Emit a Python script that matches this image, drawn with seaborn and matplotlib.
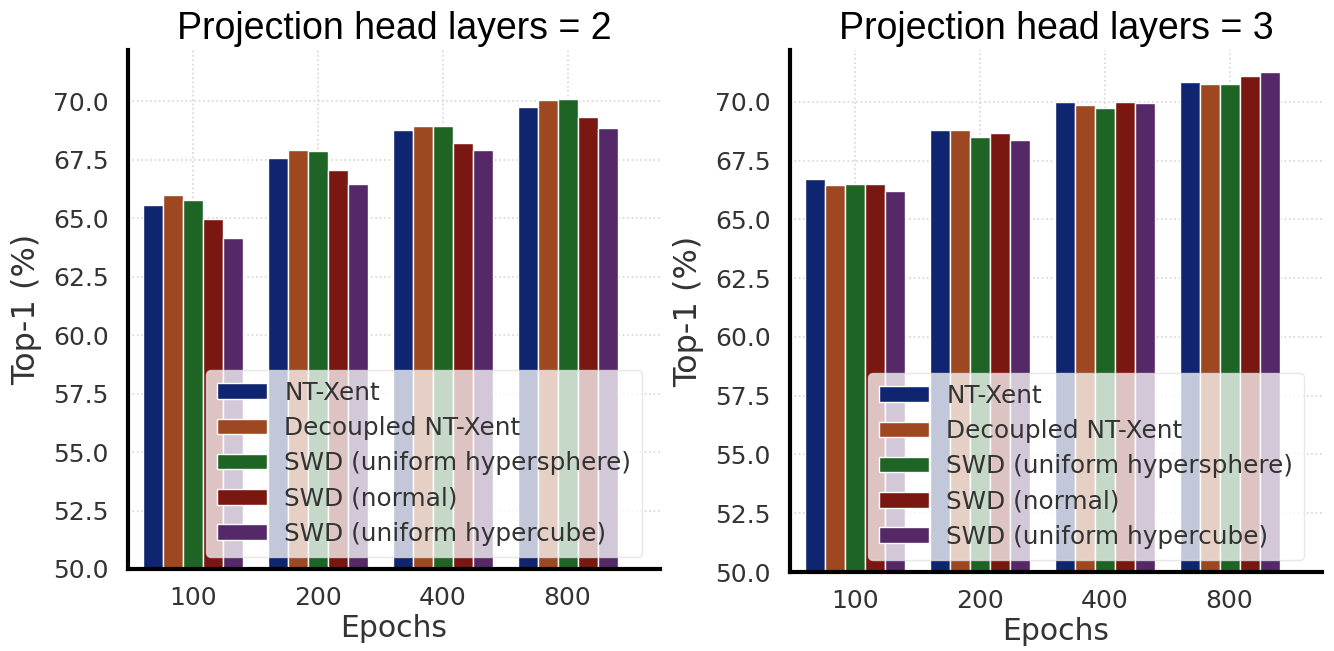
import matplotlib
matplotlib.use("Agg")
import matplotlib.pyplot as plt
import seaborn as sns
import pandas as pd

epochs = ["100", "200", "400", "800"]
methods = ["NT-Xent", "Decoupled NT-Xent", "SWD (uniform hypersphere)",
           "SWD (normal)", "SWD (uniform hypercube)"]

# top-1 accuracy, rows = method, cols = epochs
layers2 = [
    [65.56, 67.60, 68.79, 69.76],
    [66.01, 67.93, 68.97, 70.04],
    [65.80, 67.90, 68.93, 70.10],
    [64.96, 67.08, 68.22, 69.32],
    [64.15, 66.45, 67.92, 68.86],
]
layers3 = [
    [66.72, 68.79, 70.00, 70.86],
    [66.47, 68.79, 69.86, 70.76],
    [66.50, 68.49, 69.74, 70.75],
    [66.51, 68.67, 70.00, 71.09],
    [66.21, 68.37, 69.96, 71.28],
]


def to_df(vals):
    rows = []
    for m, v in zip(methods, vals):
        for e, a in zip(epochs, v):
            rows.append({"Epochs": e, "method": m, "acc": a})
    return pd.DataFrame(rows)


sns.set_theme(style="whitegrid")
plt.rcParams["font.family"] = ["DejaVu Sans"]

fig = plt.figure(figsize=(13.34, 6.51), dpi=100)
W, H = 1334, 651
axes = [fig.add_axes([128 / W, (H - 569) / H, 532 / W, 519 / H]),
        fig.add_axes([790 / W, (H - 572) / H, 532 / W, 522 / H])]

for ax, vals, title in zip(axes, [layers2, layers3],
                           ["Projection head layers = 2", "Projection head layers = 3"]):
    sns.barplot(data=to_df(vals), x="Epochs", y="acc", hue="method",
                palette="dark", edgecolor="white", linewidth=1, ax=ax)
    ax.set_ylim(50, 72.2)
    ax.set_xlim(-0.52, 3.74)
    ax.set_yticks([50, 52.5, 55, 57.5, 60, 62.5, 65, 67.5, 70])
    ax.set_yticklabels([f"{t:.1f}" for t in ax.get_yticks()])
    ax.tick_params(labelsize=18, colors="#333333")
    ax.tick_params(axis="y", pad=8)
    ax.tick_params(axis="x", pad=6)
    ax.set_xlabel("Epochs", fontsize=21.5, color="#333333", labelpad=3)
    ax.set_ylabel("Top-1 (%)", fontsize=23, color="#333333", labelpad=8)
    ax.set_title(title, fontsize=27, family="Liberation Sans", color="black", pad=8)
    ax.grid(True, axis="both", linestyle=":", color="#d5d5d5", linewidth=1.2)
    for s in ["top", "right"]:
        ax.spines[s].set_visible(False)
    for s in ["left", "bottom"]:
        ax.spines[s].set_color("black")
        ax.spines[s].set_linewidth(3)
    ax.legend(loc="lower right", fontsize=17.8, frameon=True, framealpha=0.75,
              facecolor="white", edgecolor="#e0e0e0", handlelength=2.0,
              handleheight=0.6, labelspacing=0.45, borderpad=0.45,
              handletextpad=0.7, labelcolor="#333333",
              bbox_to_anchor=(0.99, 0.0))

fig.savefig("out.png", dpi=100)
